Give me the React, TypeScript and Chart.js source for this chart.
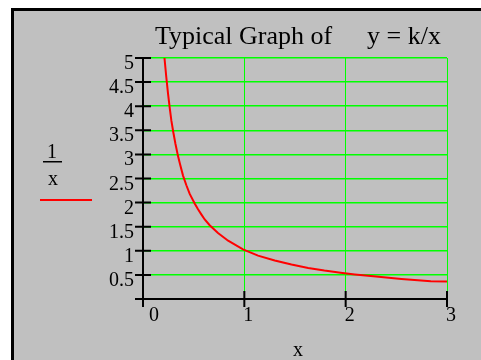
import React, { useEffect, useRef } from 'react';
import { Chart, registerables } from 'chart.js';

Chart.register(...registerables);

// Curve y = 1/x
const curveX = [0.212, 0.23, 0.247, 0.264, 0.28, 0.3, 0.32, 0.345, 0.365, 0.395, 0.428, 0.461, 0.51, 0.543, 0.577, 0.609, 0.658, 0.74, 0.84, 0.987, 1.135, 1.3, 1.465, 1.63, 1.79, 1.95, 2.09, 2.3, 2.55, 2.84, 3.0];
const curveY = [5.0, 4.6, 4.26, 3.96, 3.7, 3.45, 3.22, 2.97, 2.8, 2.56, 2.36, 2.18, 1.98, 1.86, 1.75, 1.65, 1.53, 1.37, 1.21, 1.03, 0.9, 0.8, 0.715, 0.645, 0.59, 0.545, 0.51, 0.465, 0.415, 0.369, 0.365];

const xTicks = [0, 1, 2, 3];
const xTickLabels = ['0', '1', '2', '3'];
const yTicks = [0, 0.5, 1, 1.5, 2, 2.5, 3, 3.5, 4, 4.5, 5];
const yTickLabels = ['', '0.5', '1', '1.5', '2', '2.5', '3', '3.5', '4', '4.5', '5'];

const titleLeft = 'Typical Graph of';
const titleRight = 'y = k/x';
const xAxisTitle = 'x';
const legendNumerator = '1';
const legendDenominator = 'x';

const SERIF = '"Liberation Serif", "Times New Roman", serif';

const decorPlugin = {
  id: 'decor',
  beforeDraw(chart: any) {
    const ctx = chart.ctx as CanvasRenderingContext2D;
    const W = chart.width;
    const H = chart.height;
    ctx.save();
    ctx.fillStyle = '#ffffff';
    ctx.fillRect(0, 0, W, H);
    ctx.fillStyle = '#000000';
    ctx.fillRect(11, 8, W - 11, H - 8);
    ctx.fillStyle = '#c0c0c0';
    ctx.fillRect(14, 11, W - 14, H - 11);
    ctx.restore();
  },
  afterDatasetsDraw(chart: any) {
    const ctx = chart.ctx as CanvasRenderingContext2D;
    const xs = chart.scales.x;
    const ys = chart.scales.y;
    const x0 = xs.getPixelForValue(0);
    const x3 = xs.getPixelForValue(3);
    const y0 = ys.getPixelForValue(0);
    const y5 = ys.getPixelForValue(5);
    ctx.save();
    ctx.strokeStyle = '#000000';
    ctx.lineWidth = 2;
    ctx.lineCap = 'butt';
    // axes
    ctx.beginPath();
    ctx.moveTo(x0, y5 - 1);
    ctx.lineTo(x0, y0 + 8);
    ctx.moveTo(x0 - 8, y0);
    ctx.lineTo(x3 + 1, y0);
    ctx.stroke();
    // tick marks crossing the axes
    ctx.beginPath();
    yTicks.forEach((v) => {
      const py = ys.getPixelForValue(v);
      ctx.moveTo(x0 - 8, py);
      ctx.lineTo(x0 + 8, py);
    });
    xTicks.forEach((v) => {
      const px = xs.getPixelForValue(v);
      ctx.moveTo(px, y0 - 8);
      ctx.lineTo(px, y0 + 8);
    });
    ctx.stroke();

    ctx.fillStyle = '#000000';
    ctx.font = `20px ${SERIF}`;
    ctx.textBaseline = 'alphabetic';
    // y tick labels
    ctx.textAlign = 'right';
    yTicks.forEach((v, i) => {
      const lbl = yTickLabels[i];
      if (!lbl) return;
      ctx.fillText(lbl, x0 - 9, ys.getPixelForValue(v) + 11);
    });
    // x tick labels
    ctx.textAlign = 'center';
    xTicks.forEach((v, i) => {
      const px = xs.getPixelForValue(v);
      const off = v === 0 ? 11 : 4;
      ctx.fillText(xTickLabels[i], px + off, y0 + 22);
    });
    // x axis title
    ctx.fillText(xAxisTitle, (x0 + x3) / 2 + 3, 356);

    // title
    ctx.font = `26px ${SERIF}`;
    ctx.textAlign = 'left';
    ctx.fillText(titleLeft, 155, 44);
    ctx.fillText(titleRight, 367, 44);

    // legend (fraction + line sample)
    ctx.font = `20px ${SERIF}`;
    ctx.textAlign = 'center';
    ctx.fillText(legendNumerator, 52, 158);
    ctx.fillText(legendDenominator, 53, 185);
    ctx.fillRect(43, 161, 19, 1.5);
    ctx.strokeStyle = '#ff0000';
    ctx.lineWidth = 2;
    ctx.beginPath();
    ctx.moveTo(40, 200);
    ctx.lineTo(92, 200);
    ctx.stroke();
    ctx.restore();
  },
};

export default function App() {
  const canvasRef = useRef<HTMLCanvasElement | null>(null);

  useEffect(() => {
    document.body.style.margin = '0';
    const canvas = canvasRef.current;
    if (!canvas) return;
    const data = curveX.map((x, i) => ({ x, y: curveY[i] }));
    const chart = new Chart(canvas, {
      type: 'line',
      data: {
        datasets: [
          {
            label: '1/x',
            data,
            borderColor: '#ff0000',
            borderWidth: 2,
            pointRadius: 0,
            tension: 0,
            fill: false,
          },
        ],
      },
      options: {
        responsive: false,
        animation: false,
        events: [],
        layout: { padding: { left: 143, right: 34, top: 58, bottom: 61 } },
        plugins: {
          legend: { display: false },
          title: { display: false },
          tooltip: { enabled: false },
        },
        scales: {
          x: {
            type: 'linear',
            min: 0,
            max: 3,
            ticks: { display: false, stepSize: 1 },
            border: { display: false },
            grid: {
              drawTicks: false,
              lineWidth: 1,
              color: (c: any) => (c.tick && c.tick.value === 0 ? 'rgba(0,0,0,0)' : '#00ff00'),
            },
            afterFit: (s: any) => {
              s.height = 0;
            },
          },
          y: {
            type: 'linear',
            min: 0,
            max: 5,
            ticks: { display: false, stepSize: 0.5 },
            border: { display: false },
            grid: {
              drawTicks: false,
              lineWidth: 1.5,
              color: (c: any) => (c.tick && c.tick.value === 0 ? 'rgba(0,0,0,0)' : '#00ff00'),
            },
            afterFit: (s: any) => {
              s.width = 0;
            },
          },
        },
      },
      plugins: [decorPlugin],
    });
    return () => chart.destroy();
  }, []);

  return (
    <div style={{ width: 481, height: 360 }}>
      <canvas ref={canvasRef} width={481} height={360} style={{ display: 'block' }} />
    </div>
  );
}
